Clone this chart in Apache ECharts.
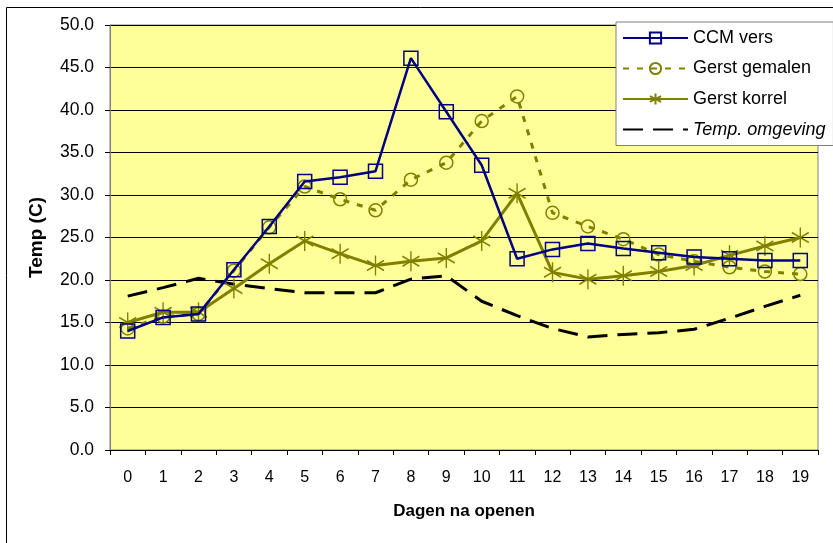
<!DOCTYPE html>
<html><head><meta charset="utf-8">
<script src="https://cdn.jsdelivr.net/npm/echarts@6/dist/echarts.min.js"></script>
<style>html,body{margin:0;padding:0;background:#fff}#c{width:833px;height:543px}</style>
</head><body><div id="c"></div>
<script>
const days = ['0','1','2','3','4','5','6','7','8','9','10','11','12','13','14','15','16','17','18','19'];
const ccmVers = [14.0,15.6,16.0,21.2,26.3,31.6,32.1,32.8,46.1,39.8,33.5,22.5,23.6,24.3,23.7,23.2,22.7,22.5,22.3,22.3];
const gerstGemalen = [14.3,15.7,16.0,21.1,26.2,31.0,29.5,28.2,31.8,33.8,38.7,41.6,27.9,26.3,24.8,23.0,22.2,21.5,21.0,20.7];
const gerstKorrel = [15.0,16.2,16.2,19.0,21.9,24.6,23.1,21.7,22.2,22.6,24.6,30.2,20.9,20.1,20.5,21.0,21.7,22.9,24.0,25.0];
const tempOmgeving = [18.1,19.1,20.2,19.5,19.0,18.5,18.5,18.5,20.1,20.5,17.5,15.8,14.3,13.3,13.6,13.8,14.2,15.5,16.9,18.2];
const yTicks = {min:0, max:50, interval:5};

const FONT = '"Liberation Sans", Arial, sans-serif';
const OLIVE = '#808000';
const NAVY = '#000080';
const star = 'path://M0,-10 L0,10 M-8.5,-5 L8.5,5 M-8.5,5 L8.5,-5';

const chart = echarts.init(document.getElementById('c'));
chart.setOption({
  animation:false,
  backgroundColor:'#fff',
  textStyle:{fontFamily:FONT},
  graphic:[{type:'rect',left:4,top:5,shape:{width:900,height:600},style:{fill:'none',stroke:'#000',lineWidth:1},z:-1}],
  grid:{left:110,right:15,top:25,bottom:93,show:true,backgroundColor:'#FFFF99',borderColor:'#808080',borderWidth:1},
  legend:{
    orient:'vertical',left:616,top:22,
    backgroundColor:'#fff',borderColor:'#808080',borderWidth:1,
    padding:[7,8,7,6],itemWidth:65,itemHeight:14,itemGap:12.5,
    textStyle:{fontFamily:FONT,fontSize:18,color:'#000'},
    data:['CCM vers','Gerst gemalen','Gerst korrel',{name:'Temp. omgeving',itemStyle:{opacity:0},textStyle:{fontStyle:'italic'}}]
  },
  xAxis:{
    type:'category',data:days,
    name:'Dagen na openen',nameLocation:'middle',nameGap:53,
    nameTextStyle:{fontFamily:FONT,fontSize:17,fontWeight:'bold',color:'#000'},
    axisLine:{lineStyle:{color:'#000',width:1}},
    axisTick:{show:true,length:5,lineStyle:{color:'#000'}},
    axisLabel:{fontFamily:FONT,fontSize:16,color:'#000',margin:20},
    splitLine:{show:false}
  },
  yAxis:{
    type:'value',min:yTicks.min,max:yTicks.max,interval:yTicks.interval,
    name:'Temp (C)',nameLocation:'middle',nameGap:64,nameRotate:90,
    nameTextStyle:{fontFamily:FONT,fontSize:19,fontWeight:'bold',color:'#000'},
    axisLine:{show:true,lineStyle:{color:'#808080',width:1}},
    axisTick:{show:true,length:5,lineStyle:{color:'#000'}},
    axisLabel:{fontFamily:FONT,fontSize:17.5,color:'#000',margin:16,formatter:v=>v.toFixed(1)},
    splitLine:{show:true,lineStyle:{color:'#000',width:1}}
  },
  series:[
    {name:'CCM vers',type:'line',data:ccmVers,symbol:'rect',symbolSize:14,showAllSymbol:true,
     lineStyle:{color:NAVY,width:2.5},itemStyle:{color:'none',borderColor:NAVY,borderWidth:1.5},z:4},
    {name:'Gerst gemalen',type:'line',data:gerstGemalen,symbol:'circle',symbolSize:13,showAllSymbol:true,
     lineStyle:{color:OLIVE,width:3,type:[6,8]},itemStyle:{color:'none',borderColor:OLIVE,borderWidth:1.5},z:3},
    {name:'Gerst korrel',type:'line',data:gerstKorrel,symbol:star,symbolSize:[17,20],showAllSymbol:true,
     lineStyle:{color:OLIVE,width:3},itemStyle:{color:'none',borderColor:OLIVE,borderWidth:1.5},z:3},
    {name:'Temp. omgeving',type:'line',data:tempOmgeving,symbol:'none',
     lineStyle:{color:'#000',width:3,type:[20,10]},itemStyle:{color:'#000'},z:2}
  ]
});
</script></body></html>
